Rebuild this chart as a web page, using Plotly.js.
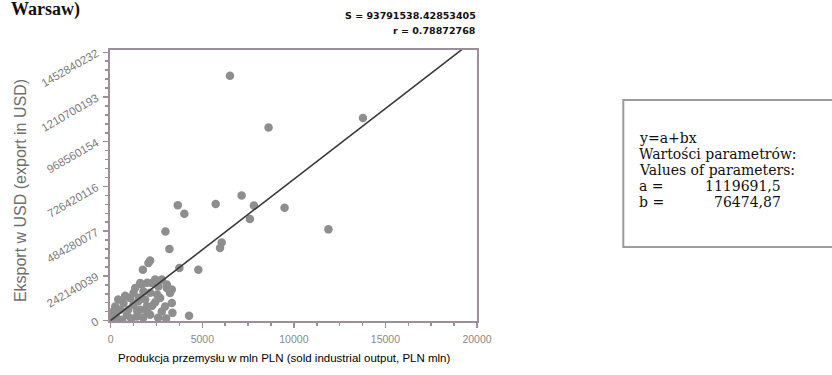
<!DOCTYPE html>
<html>
<head>
<meta charset="utf-8">
<script src="https://cdn.plot.ly/plotly-3.0.1.min.js"></script>
<style>
  html, body { margin: 0; padding: 0; background: #ffffff; }
  #chart { width: 832px; height: 375px; }
</style>
</head>
<body>
<div id="chart"></div>
<script>
// Sold industrial output (PLN mln) vs. export (USD), with fitted line y = a + b·x
const outputPLN = [
  6510, 8619, 13773, 7148, 3661, 4021, 5731, 7818, 7600, 9491, 11888, 2986,
  3204, 6058, 5966, 2152, 2059, 1754, 3748, 4783, 3367, 4277, 3334, 3062,
  1700, 2245, 2604, 3062, 3241, 2697, 2424, 1972, 1607, 1242, 1062, 697,
  518, 245, 65, 883, 1427, 2152, 2789, 2969, 3334, 1242, 1335, 1787,
  245, 1607, 2424, 2789, 409, 790, 954, 1880, 2152, 2533, 136, 354,
  627, 1117, 1771, 2588, 3024, 1553, 2261, 1444, 1989, 330, 1500, 2000
];
const exportUSD = [
  1326e6, 1045e6, 1097e6, 677e6, 625e6, 578e6, 631e6, 623e6, 550e6, 611e6, 494e6, 483e6,
  388e6, 423e6, 393e6, 326e6, 312e6, 276e6, 285e6, 276e6, 42e6, 27e6, 168e6, 195e6,
  195e6, 204e6, 185e6, 177e6, 150e6, 123e6, 99e6, 77e6, 59e6, 150e6, 123e6, 96e6,
  59e6, 32e6, 15e6, 32e6, 23e6, 32e6, 50e6, 77e6, 96e6, 86e6, 177e6, 158e6,
  77e6, 204e6, 222e6, 222e6, 114e6, 135e6, 59e6, 114e6, 151e6, 141e6, 49e6, 11e6,
  5e6, 11e6, 16e6, 16e6, 11e6, 124e6, 81e6, 54e6, 205e6, 60e6, 105e6, 45e6
];

// Fitted parameters
const paramA = 1119691.5;
const paramB = 76474.87;
const statS = "93791538.42853405";
const statR = "0.78872768";

const xTickVals = [0, 5000, 10000, 15000, 20000];
const xTickText = ["0", "5000", "10000", "15000", "20000"];
const yTickVals = [0, 242140039, 484280077, 726420116, 968560154, 1210700193, 1452840232];
const yTickText = ["0", "242140039", "484280077", "726420116", "968560154", "1210700193", "1452840232"];

const lineX = [0, 20000];
const lineY = lineX.map(x => paramA + paramB * x);

// plot area in pixels
const PL = 110, PR = 477.5, PT = 50, PB = 321;
const W = 832, H = 375;
const px2x = px => (px - PL) / (PR - PL);
const py2y = py => (PB - py) / (PB - PT);

const axisColor = '#9d8e99';

const traces = [
  {
    type: 'scatter', mode: 'markers',
    x: outputPLN, y: exportUSD,
    marker: { color: '#8e8e8e', size: 8.5, line: { width: 0 } },
    hoverinfo: 'x+y', showlegend: false
  },
  {
    type: 'scatter', mode: 'lines',
    x: lineX, y: lineY,
    line: { color: '#3a3a3a', width: 1.6 },
    hoverinfo: 'skip', showlegend: false
  }
];

const serif = 'Liberation Serif, Times New Roman, serif';
const sans = 'Liberation Sans, Arial, sans-serif';
const boxLeft = 624, boxTop = 100, boxBottom = 247, boxRight = 845;
const boxTextX = 639, boxValX = 783;
const boxFont = { family: 'DejaVu Serif, serif', size: 14, color: '#111' };
const boxLines = [
  ['y=a+bx', 137.5],
  ['Wartości parametrów:', 153.5],
  ['Values of parameters:', 169.5]
];

const annotations = [
  { text: '<b>Warsaw)</b>', x: px2x(10), y: py2y(9.5), xanchor: 'left', yanchor: 'middle',
    font: { family: serif, size: 18, color: '#111' } },
  { text: '<b>S = ' + statS + '</b>', x: px2x(477), y: py2y(15.5), xanchor: 'right', yanchor: 'middle',
    font: { family: 'DejaVu Sans', size: 9.5, color: '#111' } },
  { text: '<b>r = ' + statR + '</b>', x: px2x(477), y: py2y(30.5), xanchor: 'right', yanchor: 'middle',
    font: { family: 'DejaVu Sans', size: 9.5, color: '#111' } },
  { text: 'Produkcja przemysłu w mln PLN (sold industrial output, PLN mln)',
    x: px2x(284.5), y: py2y(358), xanchor: 'center', yanchor: 'middle',
    font: { family: sans, size: 11.5, color: '#000' } },
  { text: 'Eksport w USD (export in USD)', x: px2x(20), y: py2y(191), xanchor: 'center', yanchor: 'middle',
    textangle: -90, font: { family: sans, size: 16, color: '#6e6e6e' } }
];
boxLines.forEach(([t, py]) => annotations.push({
  text: t, x: px2x(boxTextX), y: py2y(py), xanchor: 'left', yanchor: 'middle', font: boxFont
}));
annotations.push(
  { text: 'a =', x: px2x(boxTextX), y: py2y(185.5), xanchor: 'left', yanchor: 'middle', font: boxFont },
  { text: '1119691,5', x: px2x(boxValX), y: py2y(185.5), xanchor: 'right', yanchor: 'middle', font: boxFont },
  { text: 'b =', x: px2x(boxTextX), y: py2y(201.5), xanchor: 'left', yanchor: 'middle', font: boxFont },
  { text: '76474,87', x: px2x(boxValX), y: py2y(201.5), xanchor: 'right', yanchor: 'middle', font: boxFont }
);
annotations.forEach(a => { a.xref = 'paper'; a.yref = 'paper'; a.showarrow = false; a.borderpad = 0; });

const layout = {
  width: W, height: H,
  margin: { l: PL, r: W - PR, t: PT, b: H - PB, autoexpand: false },
  paper_bgcolor: '#ffffff', plot_bgcolor: '#ffffff',
  showlegend: false,
  xaxis: {
    automargin: false,
    range: [-40, 20000], showgrid: false, zeroline: false,
    showline: true, linecolor: axisColor, linewidth: 2, mirror: true,
    tickmode: 'array', tickvals: xTickVals, ticktext: xTickText,
    ticks: 'outside', ticklen: 5, tickwidth: 1.5, tickcolor: axisColor,
    minor: { tickmode: 'linear', tick0: 0, dtick: 1250, ticks: 'outside', ticklen: 3, tickcolor: axisColor, showgrid: false },
    tickfont: { family: sans, size: 10.5, color: '#8a8a8a' },
    ticklabelstandoff: 2
  },
  yaxis: {
    automargin: false,
    range: [-2e6, 1.465e9], showgrid: false, zeroline: false,
    showline: true, linecolor: axisColor, linewidth: 2, mirror: true,
    tickmode: 'array', tickvals: yTickVals, ticktext: yTickText, tickangle: -30,
    ticks: 'outside', ticklen: 5, tickwidth: 1.5, tickcolor: axisColor,
    minor: { tickmode: 'linear', tick0: 0, dtick: 242140038.67 / 5, ticks: 'outside', ticklen: 3, tickcolor: axisColor, showgrid: false },
    tickfont: { family: sans, size: 11.5, color: '#7a7a7a' },
    ticklabelstandoff: 4
  },
  shapes: [
    { type: 'rect', xref: 'paper', yref: 'paper',
      x0: px2x(boxLeft), x1: px2x(boxRight), y0: py2y(boxBottom), y1: py2y(boxTop),
      line: { color: '#a09aa0', width: 2 }, fillcolor: 'rgba(0,0,0,0)' }
  ],
  annotations: annotations
};

Plotly.newPlot('chart', traces, layout, { displayModeBar: false, staticPlot: true });
</script>
</body>
</html>
